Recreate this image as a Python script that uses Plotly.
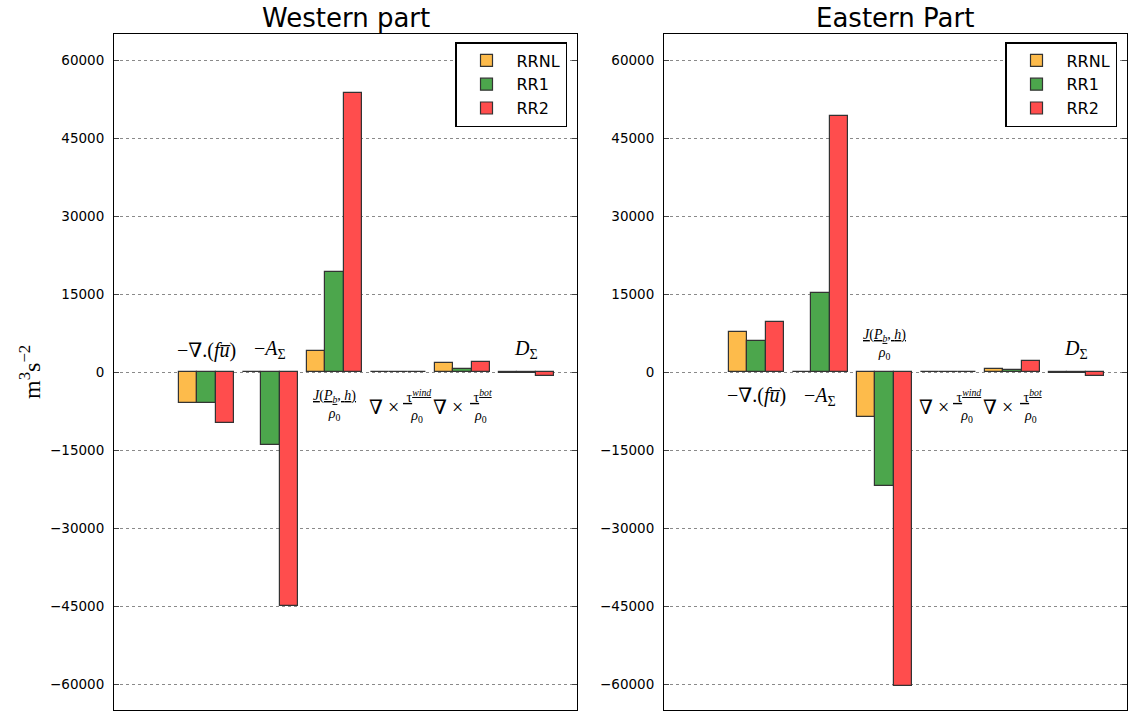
import plotly.graph_objects as go

# 数据
terms = ["adv", "A", "J", "wind", "bot", "D"]
term_labels = [
    "−∇.(<i>f</i><i>u̅</i>)",
    "−<i>A</i><sub>Σ</sub>",
    "<u><i>J</i>(<i>P</i><sub><i>b</i></sub>, <i>h</i>)</u><br><i>ρ</i><sub>0</sub>",
    "<u> τ<sup><i>wind</i></sup></u><br><i>ρ</i><sub>0</sub>",
    "<u> τ<sup><i>bot</i></sup></u><br><i>ρ</i><sub>0</sub>",
    "<i>D</i><sub>Σ</sub>",
]
runs = ["RRNL", "RR1", "RR2"]

west_rrnl = [-6000, 0, 4100, 50, 1800, -100]
west_rr1 = [-6000, -14000, 19300, 50, 500, -150]
west_rr2 = [-9800, -45000, 53600, 50, 2000, -800]

east_rrnl = [7700, 0, -8600, 50, 600, -100]
east_rr1 = [5900, 15200, -21900, 50, 400, -200]
east_rr2 = [9700, 49200, -60400, 50, 2100, -800]

colors = ["#FDBB4B", "#4CA64C", "#FF4D4D"]
W = 0.29
FW, FH = 1129, 711
serif = "Liberation Serif, DejaVu Serif, serif"
sans = "DejaVu Sans, sans-serif"


def px(x):
    return x / FW


def py(y):
    return 1 - y / FH


fig = go.Figure()
panels = [
    ("x", "y", "legend", [west_rrnl, west_rr1, west_rr2]),
    ("x2", "y2", "legend2", [east_rrnl, east_rr1, east_rr2]),
]
for xa, ya, lg, series in panels:
    for k, (name, vals) in enumerate(zip(runs, series)):
        fig.add_trace(go.Bar(
            x=list(range(len(terms))), y=vals, name=name,
            width=W, offset=(k - 1.5) * W,
            marker=dict(color=colors[k], line=dict(color="#333333", width=1.2)),
            xaxis=xa, yaxis=ya, legend=lg,
        ))


# 标签: 放在柱子相反一侧
def add_labels(xref, yref, series):
    for i, lab in enumerate(term_labels):
        mx = max(s[i] for s in series)
        mn = min(s[i] for s in series)
        above = abs(mn) > abs(mx)
        t = terms[i]
        if t in ("wind", "bot"):
            above = False
        frac = t in ("J", "wind", "bot")
        if t in ("wind", "bot"):
            fig.add_annotation(
                x=i, y=0, xref=xref, yref=yref, text="∇ ×", showarrow=False,
                yanchor="top", yshift=-22, xshift=-14,
                font=dict(family=serif, size=20, color="black"))
            fig.add_annotation(
                x=i, y=0, xref=xref, yref=yref, text=lab, showarrow=False,
                yanchor="top", yshift=-13, xshift=19,
                font=dict(family=serif, size=14, color="black"))
            continue
        if above:
            ys = 8
        else:
            ys = -14 if frac else -10
        fig.add_annotation(
            x=i, y=0, xref=xref, yref=yref, text=lab, showarrow=False,
            yanchor="bottom" if above else "top", yshift=ys,
            font=dict(family=serif, size=14 if frac else 20, color="black"),
        )


add_labels("x", "y", panels[0][3])
add_labels("x2", "y2", panels[1][3])

ticks = [-60000, -45000, -30000, -15000, 0, 15000, 30000, 45000, 60000]
tick_text = [str(t).replace("-", "−") for t in ticks]
yax = dict(range=[-65000, 65000], tickvals=ticks, ticktext=tick_text,
           ticks="inside", ticklen=5, ticklabelstandoff=6,
           showline=True, linecolor="black", linewidth=1, mirror="allticks",
           showgrid=True, gridcolor="#8a8a8a", griddash="dot", gridwidth=1,
           zeroline=False, tickfont=dict(family=sans, size=13.5, color="black"))
xax = dict(range=[-1.445, 5.79], showticklabels=False, ticks="",
           showline=True, linecolor="black", linewidth=1, mirror=True,
           showgrid=False, zeroline=False)

leg = dict(bordercolor="black", borderwidth=1.5, bgcolor="white",
           font=dict(family=sans, size=16, color="black"), itemwidth=50,
           xanchor="right", yanchor="top", y=py(42))

fig.update_layout(
    width=FW, height=FH,
    margin=dict(l=0, r=0, t=0, b=0),
    plot_bgcolor="white", paper_bgcolor="white",
    barmode="overlay", bargap=0,
    xaxis=dict(domain=[px(114), px(577)], **xax),
    xaxis2=dict(domain=[px(664), px(1127)], **xax),
    yaxis=dict(domain=[py(710), py(34)], anchor="x", **yax),
    yaxis2=dict(domain=[py(710), py(34)], anchor="x2", **yax),
    legend=dict(x=px(567), **leg),
    legend2=dict(x=px(1117), **leg),
    showlegend=True,
)

for cx, title in [(345.5, "Western part"), (895.5, "Eastern Part")]:
    fig.add_annotation(x=px(cx), y=py(18), xref="paper", yref="paper",
                       xanchor="center", yanchor="middle",
                       text=title, showarrow=False,
                       font=dict(family=sans, size=26, color="black"))
fig.add_annotation(x=px(30), y=py(372), xref="paper", yref="paper",
                   xanchor="center", yanchor="middle",
                   text="m<sup>3</sup>s<sup>−2</sup>", textangle=-90, showarrow=False,
                   font=dict(family=serif, size=24, color="black"))

fig.write_html("out.html", config={"displayModeBar": False},
               post_script="document.body.style.margin='0';")
